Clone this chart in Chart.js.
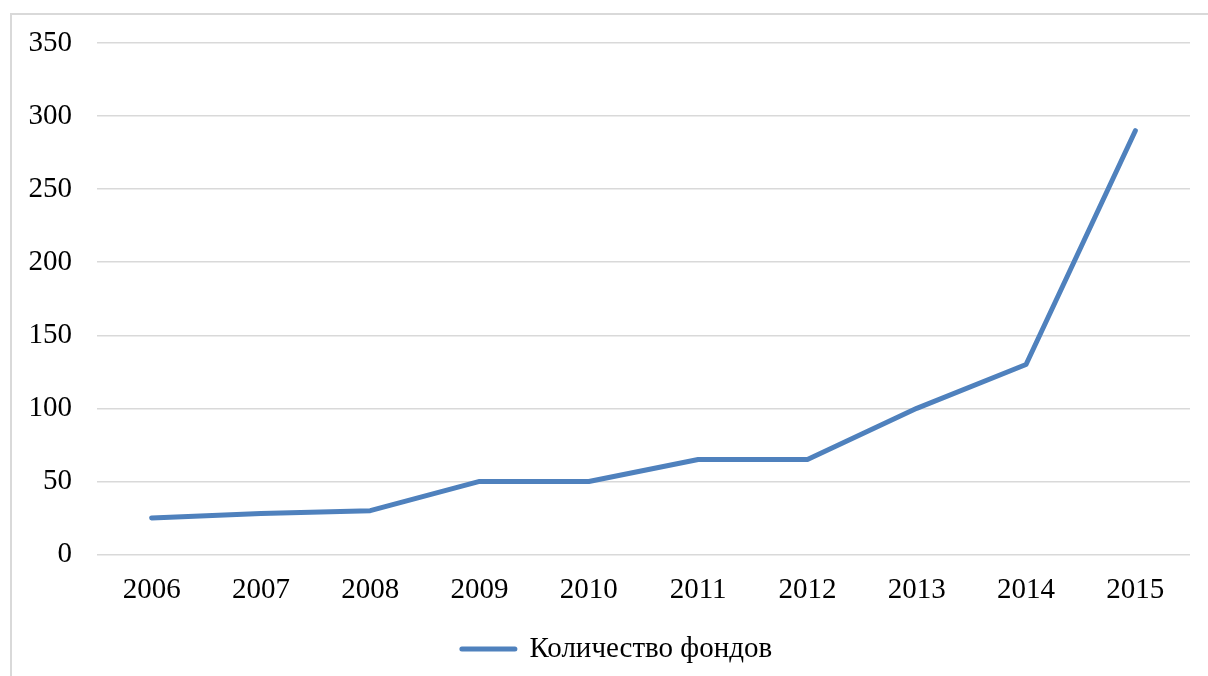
<!DOCTYPE html>
<html>
<head>
<meta charset="utf-8">
<script src="https://cdn.jsdelivr.net/npm/chart.js@4/dist/chart.umd.min.js"></script>
<style>
    html, body { margin: 0; padding: 0; background: #ffffff; overflow: hidden; }
    #frame {
        position: absolute; left: 10px; top: 13px; width: 1400px; height: 900px;
        border-left: 2px solid #d9d9d9; border-top: 2px solid #d9d9d9;
    }
    #wrap { position: absolute; left: 0; top: 0; width: 1208px; height: 676px; }
</style>
</head>
<body>
<div id="frame"></div>
<div id="wrap"><canvas id="fundsChart" width="1208" height="676"></canvas></div>
<script>
var years = ["2006", "2007", "2008", "2009", "2010", "2011", "2012", "2013", "2014", "2015"];
var fundCounts = [25, 28, 30, 50, 50, 65, 65, 100, 130, 290];
var seriesLabel = "Количество фондов";
var yMin = 0, yMax = 350, yStep = 50;

var fundsChart = {};

fundsChart.FONT = { family: "'Liberation Serif', 'Times New Roman', serif", size: 29 };

fundsChart.CONFIG = {
    type: "line",
    data: {
        labels: years,
        datasets: [
            {
                label: seriesLabel,
                data: fundCounts,
                borderColor: "#4f81bd",
                backgroundColor: "#4f81bd",
                borderWidth: 5,
                borderCapStyle: "round",
                borderJoinStyle: "round",
                pointRadius: 0,
                tension: 0,
            },
        ],
    },
    options: {
        responsive: false,
        animation: false,
        layout: {
            // left padding only nudges the centred legend to the right
            padding: { top: 43, right: 18, bottom: 2.5, left: 44 },
        },
        plugins: {
            tooltip: { enabled: false },
            legend: {
                position: "bottom",
                labels: {
                    color: "#000000",
                    font: fundsChart.FONT,
                    padding: 8,
                    usePointStyle: true,
                    pointStyleWidth: 53,
                    generateLabels: (chart) => {
                        return chart.data.datasets.map((dataset, index) => ({
                            text: dataset.label,
                            pointStyle: "line",
                            strokeStyle: dataset.borderColor,
                            fillStyle: dataset.borderColor,
                            lineWidth: 5,
                            lineCap: "round",
                            datasetIndex: index,
                        }));
                    },
                },
            },
        },
        scales: {
            x: {
                offset: true,
                grid: { display: false, drawTicks: false },
                border: { display: false },
                ticks: { color: "#000000", font: fundsChart.FONT, padding: 18, maxRotation: 0 },
                afterFit: function(axis) { axis.height = 72; },
            },
            y: {
                min: yMin,
                max: yMax,
                grid: { color: "#d9d9d9", lineWidth: 1.5, drawTicks: false },
                border: { display: false },
                ticks: { color: "#000000", font: fundsChart.FONT, stepSize: yStep, padding: 25 },
                afterFit: function(axis) {
                    axis.width = 53;
                    // the axis box is narrower than its labels, so don't clip them
                    axis._computeLabelArea = function() { return undefined; };
                },
            },
        },
    },
};

fundsChart.element = document.getElementById("fundsChart");
fundsChart.chart = new Chart(fundsChart.element, fundsChart.CONFIG);
</script>
</body>
</html>
